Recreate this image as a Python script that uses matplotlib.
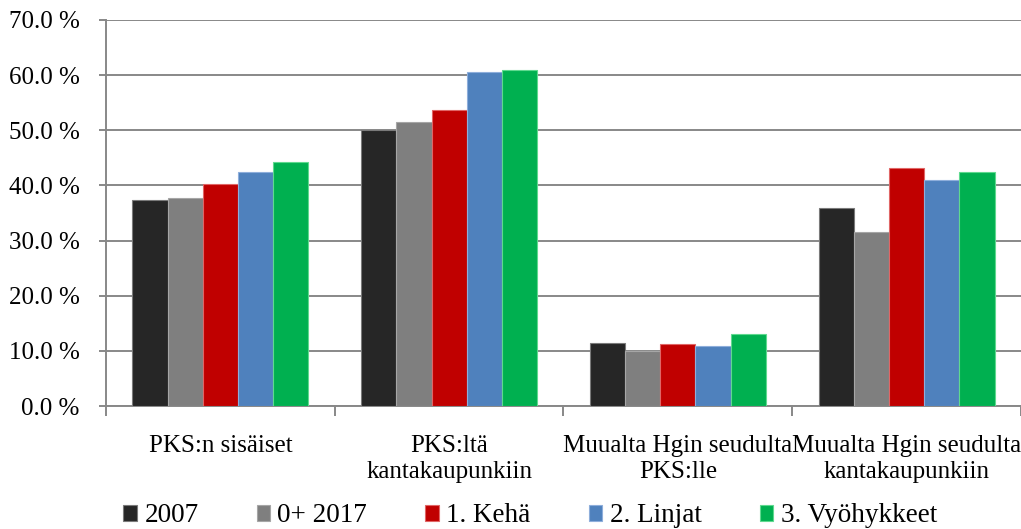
import matplotlib
matplotlib.use('Agg')
import matplotlib.pyplot as plt
import numpy as np
from matplotlib.ticker import FuncFormatter

plt.rcParams['font.family'] = ['Liberation Serif', 'DejaVu Serif']

# Data
categories = ['PKS:n sisäiset', 'PKS:ltä\nkantakaupunkiin',
              'Muualta Hgin seudulta\nPKS:lle', 'Muualta Hgin seudulta\nkantakaupunkiin']
series_names = ['2007', '0+ 2017', '1. Kehä', '2. Linjat', '3. Vyöhykkeet']
v2007 = [37.4, 50.1, 11.5, 35.9]
v2017 = [37.7, 51.5, 9.9, 31.6]
v_keha = [40.3, 53.7, 11.2, 43.2]
v_linjat = [42.4, 60.6, 10.8, 41.0]
v_vyohyk = [44.3, 60.9, 13.0, 42.4]
values = [v2007, v2017, v_keha, v_linjat, v_vyohyk]

colors = ['#262626', '#7f7f7f', '#c00000', '#4f81bd', '#00b050']
edges = ['#7a7a7a', '#a6a6a6', '#e06666', '#8eaedb', '#5fd98f']

fig = plt.figure(figsize=(10.21, 5.29), dpi=100)
ax = fig.add_axes([0.1038, 0.2325, 0.8962, 0.7297])

x = np.arange(len(categories)) + 0.5
w = 1 / 6.5
for i, (vals, c, e, name) in enumerate(zip(values, colors, edges, series_names)):
    ax.bar(x + (i - 2) * w, vals, width=w, color=c, edgecolor=e,
           linewidth=0.8, label=name, zorder=3)

ax.set_xlim(0, 4)
ax.set_ylim(0, 70)
ax.set_yticks(np.arange(0, 71, 10))
ax.yaxis.set_major_formatter(FuncFormatter(lambda v, p: f'{v:.1f} %'))
ax.grid(axis='y', color='#888888', linewidth=1.4, zorder=0)

ax.set_xticks(x)
ax.set_xticklabels(categories, fontsize=18, linespacing=1.2)
ax.set_xticks(np.arange(0, 5), minor=True)
ax.tick_params(axis='x', which='major', length=0, pad=21)
ax.tick_params(axis='x', which='minor', length=7, width=1.4, color='#888888')
ax.tick_params(axis='y', length=5, width=1.4, color='#888888', labelsize=18, pad=14)

for s in ['top', 'right']:
    ax.spines[s].set_visible(False)
for s in ['left', 'bottom']:
    ax.spines[s].set_color('#888888')
    ax.spines[s].set_linewidth(1.4)

leg = fig.legend(loc='lower left', bbox_to_anchor=(0.097, -0.045), ncol=5,
                 frameon=False, fontsize=19.5, handlelength=0.5, handleheight=0.5,
                 handletextpad=0.27, columnspacing=2.15)

fig.savefig('out.png', dpi=100)
